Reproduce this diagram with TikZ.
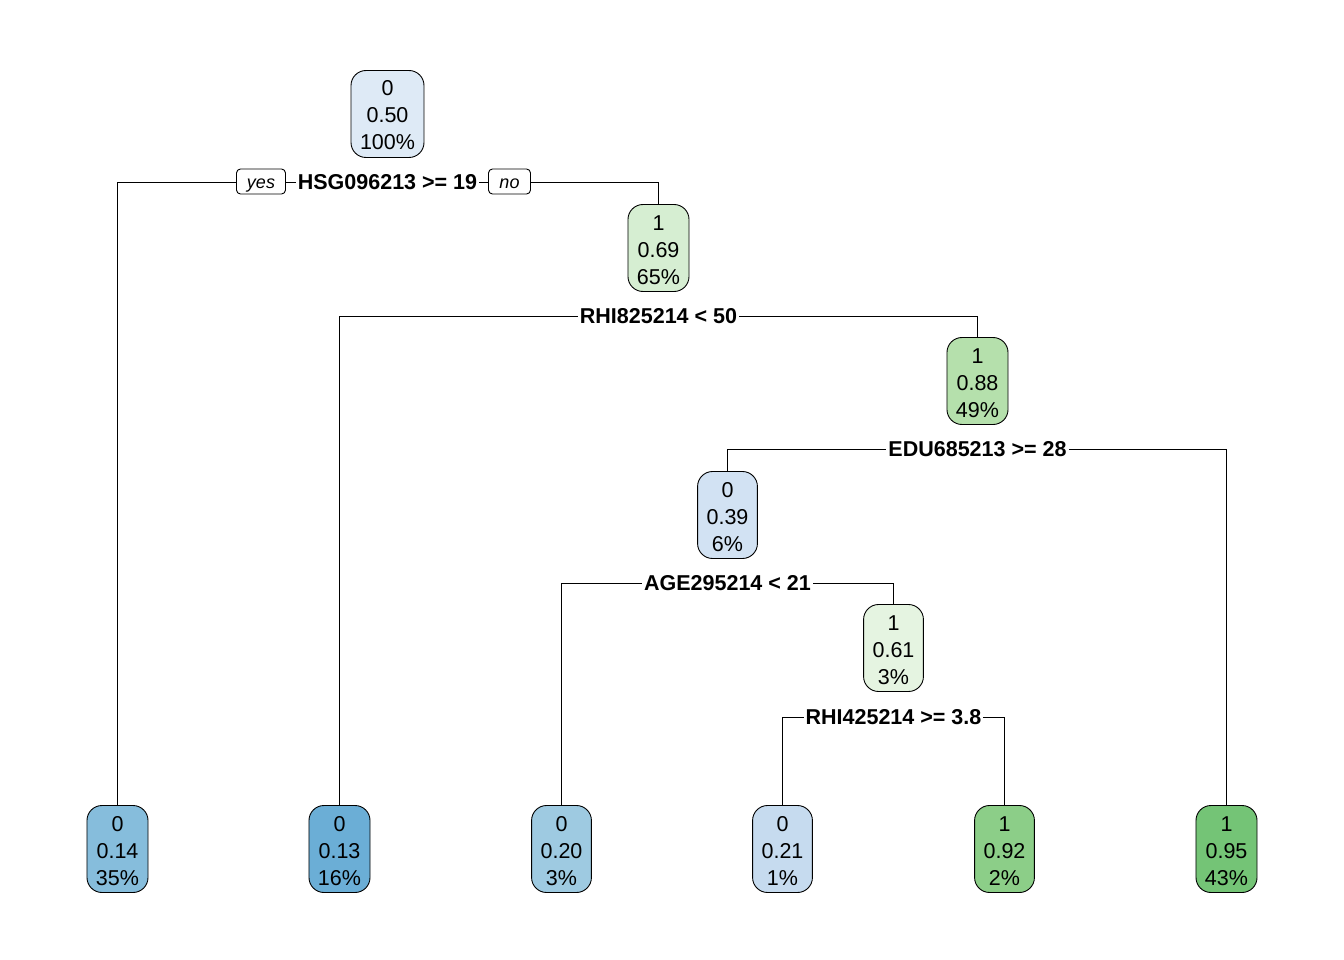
\documentclass[tikz,border=0pt]{standalone}
\usepackage{fontspec}
\setmainfont{Liberation Sans}
\usetikzlibrary{backgrounds}
\definecolor{c50}{RGB}{222,234,246}
\definecolor{c69}{RGB}{214,238,210}
\definecolor{c88}{RGB}{181,224,172}
\definecolor{c39}{RGB}{210,226,243}
\definecolor{c61}{RGB}{229,244,225}
\definecolor{c14}{RGB}{134,189,220}
\definecolor{c13}{RGB}{107,174,214}
\definecolor{c20}{RGB}{158,202,225}
\definecolor{c21}{RGB}{198,219,239}
\definecolor{c92}{RGB}{140,206,136}
\definecolor{c95}{RGB}{116,196,118}
\tikzset{
  treebox/.style={draw=black, line width=0.9pt, rounded corners=15pt, align=center,
    minimum height=87pt, inner xsep=9pt, inner ysep=0pt,
    text height=72pt, text depth=0pt,
    font=\fontsize{21.5}{27}\selectfont},
  splitlabel/.style={fill=white, inner xsep=2pt, inner ysep=1pt,
    font=\fontsize{21.5}{24}\selectfont\bfseries},
  yesno/.style={draw=black, fill=white, line width=0.9pt, rounded corners=4pt,
    minimum height=25pt, minimum width=#1, inner xsep=4pt, inner ysep=0pt,
    text height=14pt, text depth=0pt,
    font=\fontsize{18}{20}\selectfont\itshape},
  edge/.style={draw=black, line width=0.8pt}
}
\begin{document}
\begin{tikzpicture}[x=1pt, y=-1pt]
\useasboundingbox (0,0) rectangle (1344,960);
\begin{scope}[shift={(0.5,0.5)}]
% inner nodes
\node[treebox, fill=c50] (n1) at (387,113.5) {0\\0.50\\100\%};
\node[treebox, fill=c69] (n2) at (658,247.5) {1\\0.69\\65\%};
\node[treebox, fill=c88] (n3) at (977,380.5) {1\\0.88\\49\%};
\node[treebox, fill=c39] (n4) at (727,514.5) {0\\0.39\\6\%};
\node[treebox, fill=c61] (n5) at (893,647.5) {1\\0.61\\3\%};

% leaves
\node[treebox, fill=c14] (l1) at (117,848.5) {0\\0.14\\35\%};
\node[treebox, fill=c13] (l2) at (339,848.5) {0\\0.13\\16\%};
\node[treebox, fill=c20] (l3) at (561,848.5) {0\\0.20\\3\%};
\node[treebox, fill=c21] (l4) at (782,848.5) {0\\0.21\\1\%};
\node[treebox, fill=c92] (l5) at (1004,848.5) {1\\0.92\\2\%};
\node[treebox, fill=c95] (l6) at (1226,848.5) {1\\0.95\\43\%};

% split conditions
\node[splitlabel] (s1) at (387,182) {HSG096213 >= 19};
\node[splitlabel] (s2) at (658,316) {RHI825214 < 50};
\node[splitlabel] (s3) at (977,449) {EDU685213 >= 28};
\node[splitlabel] (s4) at (727,583) {AGE295214 < 21};
\node[splitlabel] (s5) at (893,717) {RHI425214 >= 3.8};

\node[yesno=49pt] (yes) at (260.5,181) {yes};
\node[yesno=42pt] (no) at (509,181) {no};

% branches
\begin{pgfonlayer}{background}
\draw[edge] (l1.north) |- (s1.center) -| (n2.north);
\draw[edge] (l2.north) |- (s2.center) -| (n3.north);
\draw[edge] (n4.north) |- (s3.center) -| (l6.north);
\draw[edge] (l3.north) |- (s4.center) -| (n5.north);
\draw[edge] (l4.north) |- (s5.center) -| (l5.north);
\end{pgfonlayer}
\end{scope}
\end{tikzpicture}
\end{document}
